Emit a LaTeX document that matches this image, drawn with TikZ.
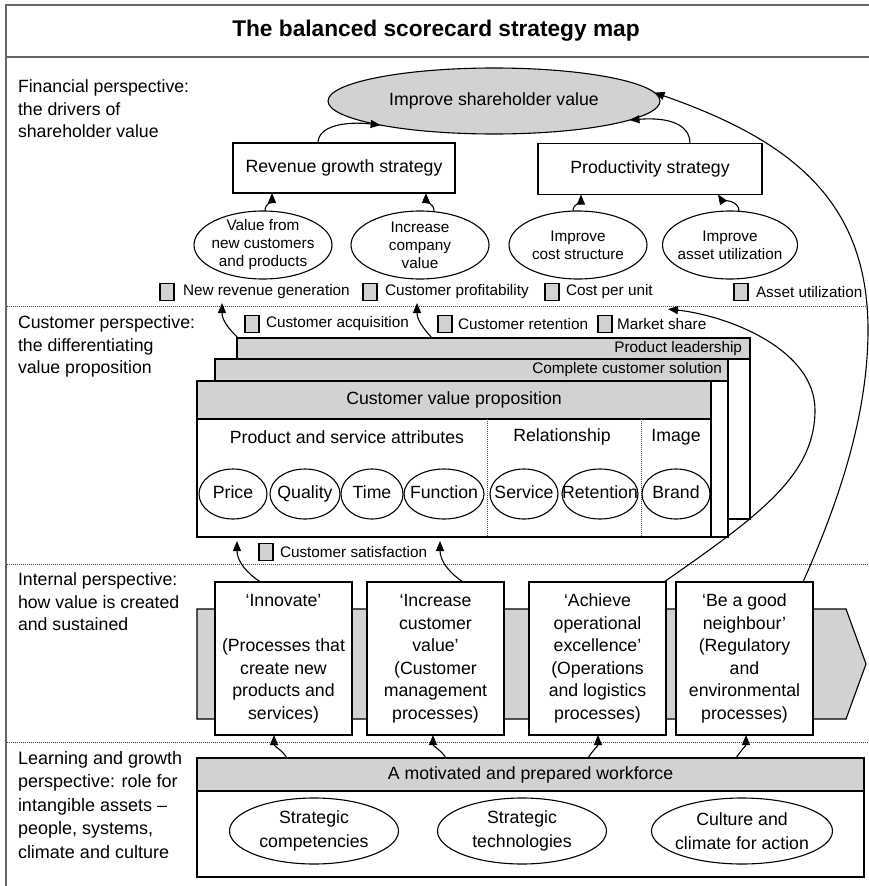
\documentclass[tikz,border=0pt]{standalone}
\usepackage{fontspec}
\setmainfont{Liberation Sans}
\usetikzlibrary{arrows.meta,shapes.geometric}
\definecolor{fillg}{RGB}{210,210,210}
\newcommand{\fsmain}{\fontsize{17.7}{22.5}\selectfont}
\newcommand{\fssmall}{\fontsize{15.3}{18}\selectfont}
\begin{document}
\begin{tikzpicture}[x=1pt,y=-1pt,
  every node/.style={inner sep=0pt, outer sep=0pt, font=\fsmain},
  arr/.style={-{Triangle[length=10pt,width=8pt]}, line width=1.1pt},
  boxw/.style={draw, line width=1.1pt, fill=white},
  bandg/.style={draw, line width=1.1pt, fill=fillg, anchor=north west},
  ell/.style={ellipse, draw, line width=1.1pt, fill=white, align=center, inner sep=-14pt},
  circ/.style={ell, minimum height=50pt, text height=13pt, text depth=4pt},
  kpisq/.style={draw, line width=1.1pt, fill=fillg, minimum width=14pt, minimum height=17pt},
  kpilab/.style={anchor=west, font=\fssmall},
  sep/.style={line width=1pt, dash pattern=on 1pt off 1pt, black!75},
  sidelab/.style={anchor=north west, align=left},
  frame/.style={line width=1.8pt, black!60}
]
\useasboundingbox (0,0) rectangle (868,886);

% frame and separators
\draw[frame] (6,890) -- (6,5) -- (875,5);
\draw[frame] (6,57) -- (875,57);
\draw[sep] (7,306) -- (870,306);
\draw[sep] (7,564) -- (870,564);
\draw[sep] (7,742) -- (870,742);

\node[font=\fontsize{22.7}{27}\selectfont\bfseries] (title) at (436,31) {The balanced scorecard strategy map};

% side labels
\node[sidelab] (lfin) at (18,80) {Financial perspective:\\the drivers of\\shareholder value};
\node[sidelab] (lcus) at (18,316) {Customer perspective:\\the differentiating\\value proposition};
\node[sidelab] (lint) at (18,573) {Internal perspective:\\how value is created\\and sustained};
\node[sidelab, font=\fontsize{18}{23.5}\selectfont] (llrn) at (18,751) {Learning and growth\\perspective: role for\\intangible assets --\\people, systems,\\climate and culture};

% financial perspective
\node[ellipse, draw, line width=1.1pt, fill=fillg, minimum width=332pt, minimum height=66pt, inner sep=-20pt] (shv) at (494,101) {Improve shareholder value};
\node[boxw, minimum width=222pt, minimum height=50pt] (rev) at (344,168) {Revenue growth strategy};
\node[boxw, minimum width=224pt, minimum height=51pt] (prod) at (650,169) {Productivity strategy};

\draw[arr] ([xshift=-26pt]rev.north) .. controls (318,126) and (345,121) .. (shv.192);
\draw[arr] ([xshift=40pt]prod.north) .. controls (690,124) and (668,117) .. (shv.-8);

\node[ell, font=\fssmall, minimum width=138pt, minimum height=68pt] (vnc) at (263,245) {Value from\\new customers\\and products};
\node[ell, font=\fssmall, minimum width=138pt, minimum height=68pt] (icv) at (420,245) {Increase\\company\\value};
\node[ell, font=\fssmall, minimum width=138pt, minimum height=68pt] (ics) at (578,245) {Improve\\cost structure};
\node[ell, font=\fssmall, minimum width=135pt, minimum height=68pt] (iau) at (730,245) {Improve\\asset utilization};

\draw[arr] ([xshift=2pt]vnc.north) .. controls (265,203) and (272,202) .. ([xshift=-72pt]rev.south);
\draw[arr] ([xshift=14pt]icv.north) .. controls (434,203) and (426,202) .. ([xshift=82pt]rev.south);
\draw[arr] ([xshift=-5pt]ics.north) .. controls (573,203) and (581,203) .. ([xshift=-69pt]prod.south);
\draw[arr] ([xshift=9pt]iau.north) .. controls (739,200) and (721,199) .. ([xshift=68pt]prod.south);

% KPI row 1
\node[kpisq] (k1) at (167,292) {};
\node[kpilab] (k1l) at (183,292) {New revenue generation};
\node[kpisq] (k2) at (370,292) {};
\node[kpilab] (k2l) at (385,292) {Customer profitability};
\node[kpisq] (k3) at (552,292) {};
\node[kpilab] (k3l) at (566,292) {Cost per unit};
\node[kpisq] (k4) at (741,292) {};
\node[kpilab] (k4l) at (756,292) {Asset utilization};

% KPI row 2
\node[kpisq] (k5) at (252,324) {};
\node[kpilab] (k5l) at (266,324) {Customer acquisition};
\node[kpisq] (k6) at (445,324) {};
\node[kpilab] (k6l) at (458,324) {Customer retention};
\node[kpisq] (k7) at (605,324) {};
\node[kpilab] (k7l) at (617,324) {Market share};

% value proposition stack
\node[boxw, anchor=north west, minimum width=513pt, minimum height=181pt] (pl) at (237,338) {};
\node[bandg, minimum width=513pt, minimum height=21pt] (plband) at (237,338) {};
\node[anchor=east, font=\fssmall] (pllab) at ([xshift=-8pt]plband.east) {Product leadership};

\node[boxw, anchor=north west, minimum width=513pt, minimum height=178pt] (ccs) at (215,359) {};
\node[bandg, minimum width=513pt, minimum height=22pt] (ccsband) at (215,359) {};
\node[anchor=east, font=\fssmall] (ccslab) at ([xshift=-6pt]ccsband.east) {Complete customer solution};

\node[boxw, anchor=north west, minimum width=514pt, minimum height=156pt] (cvp) at (197,381) {};
\node[bandg, minimum width=514pt, minimum height=38pt] (cvphead) at (197,381) {Customer value proposition};

\node (psa) at (347,437) {Product and service attributes};
\node (rel) at (562,437) {Relationship};
\node (img) at (676,437) {Image};
\draw[sep] (487,419) -- (487,537);
\draw[sep] (641,419) -- (641,537);

\node[circ, minimum width=68pt] (price) at (233,494) {Price};
\node[circ, minimum width=70pt] (qual) at (305,494) {Quality};
\node[circ, minimum width=62pt] (time) at (372,494) {Time};
\node[circ, minimum width=80pt] (func) at (444,494) {Function};
\node[circ, minimum width=68pt] (serv) at (524,494) {Service};
\node[circ, minimum width=76pt] (ret) at (600,494) {Retention};
\node[circ, minimum width=68pt] (brand) at (676,494) {Brand};

% customer satisfaction
\node[kpisq] (k8) at (266,552) {};
\node[kpilab] (k8l) at (280,552) {Customer satisfaction};

% internal perspective
\filldraw[line width=1.1pt, fill=fillg] (197,609) -- (846,609) -- (866,664) -- (846,719) -- (197,719) -- cycle;
\node[boxw, minimum width=137pt, minimum height=153pt, align=center] (inn) at (283.5,658.5) {‘Innovate’\\[22.5pt](Processes that\\create new\\products and\\services)};
\node[boxw, minimum width=137pt, minimum height=153pt, align=center] (icvb) at (435.5,658.5) {‘Increase\\customer\\value’\\(Customer\\management\\processes)};
\node[boxw, minimum width=137pt, minimum height=153pt, align=center] (ach) at (597.5,658.5) {‘Achieve\\operational\\excellence’\\(Operations\\and logistics\\processes)};
\node[boxw, minimum width=137pt, minimum height=153pt, align=center] (bgn) at (744.5,658.5) {‘Be a good\\neighbour’\\(Regulatory\\and\\environmental\\processes)};

\coordinate (t1) at (222,303);
\coordinate (t2) at (417,303);
\draw[arr] ([xshift=1pt]pl.north west) .. controls (228,328) and (222,320) .. (t1);
\draw[arr] ([xshift=195pt]pl.north west) .. controls (423,328) and (417,320) .. (t2);

\coordinate (t3) at (237,541);
\coordinate (t4) at (440,541);
\draw[arr] ([xshift=-23pt]inn.north) .. controls (248,574) and (237,562) .. (t3);
\draw[arr] ([xshift=27.5pt]icvb.north) .. controls (451,574) and (440,562) .. (t4);

\coordinate (tA) at (668,309);
\draw[arr] ([xshift=-2pt]ach.north east) .. controls (760,515) and (815,475) .. (815,410) .. controls (815,350) and (730,316) .. (tA);
\draw[arr] ([xshift=-10pt]bgn.north east) .. controls (835,510) and (868,420) .. (868,330) .. controls (868,200) and (790,140) .. (shv.3);

% learning and growth
\node[bandg, minimum width=667pt, minimum height=33pt] (wf) at (197,758) {A motivated and prepared workforce};
\node[boxw, anchor=north west, minimum width=667pt, minimum height=86pt] (lgbody) at (197,791) {};
\node[ell, minimum width=169pt, minimum height=66pt, font=\fontsize{17.7}{24}\selectfont] (sc) at (314,831) {Strategic\\competencies};
\node[ell, minimum width=169pt, minimum height=66pt, font=\fontsize{17.7}{24}\selectfont] (st) at (522,831) {Strategic\\technologies};
\node[ell, minimum width=181pt, minimum height=66pt, font=\fontsize{17.7}{24}\selectfont] (cc) at (742,831) {Culture and\\climate for action};

\draw[arr] ([xshift=-243.5pt]wf.north) .. controls (282,750) and (274,746) .. ([xshift=-9.5pt]inn.south);
\draw[arr] ([xshift=-84.5pt]wf.north) .. controls (441,750) and (433,746) .. ([xshift=-2.5pt]icvb.south);
\draw[arr] ([xshift=57.5pt]wf.north) .. controls (593,750) and (598,746) .. ([xshift=0.5pt]ach.south);
\draw[arr] ([xshift=205.5pt]wf.north) .. controls (741,750) and (746,746) .. ([xshift=1.5pt]bgn.south);
\end{tikzpicture}
\end{document}
